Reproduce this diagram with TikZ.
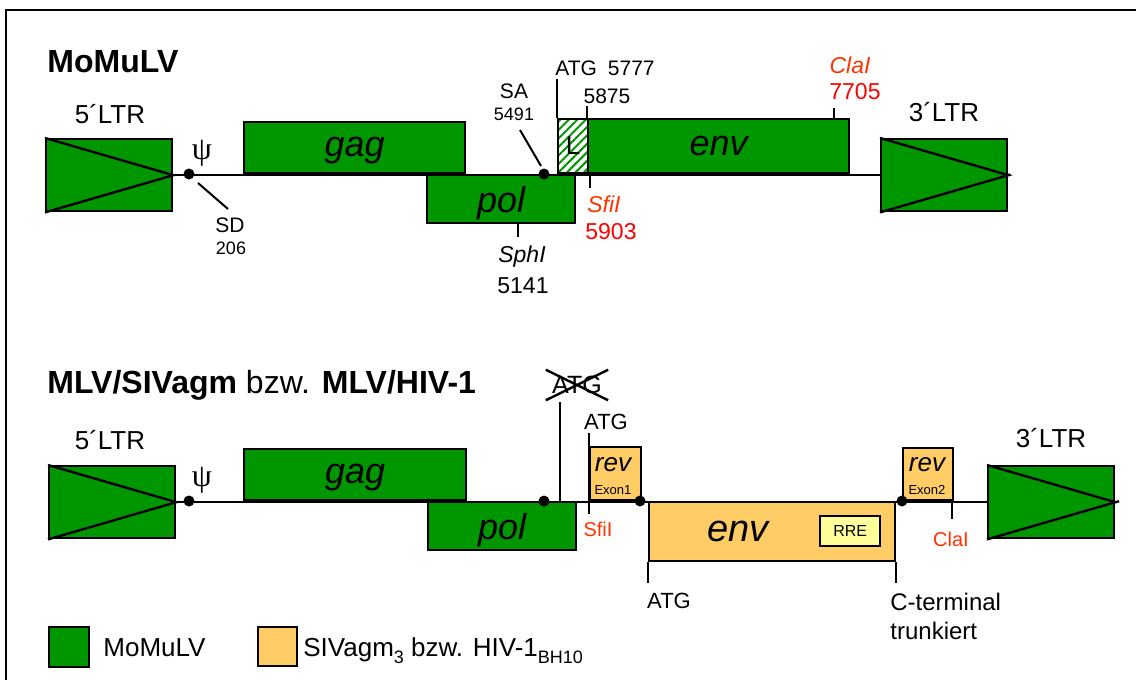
\documentclass[tikz,border=0pt]{standalone}
\usepackage{fontspec}
\setmainfont{Liberation Sans}
\newfontfamily\greekfont{Liberation Serif}
\usetikzlibrary{patterns.meta, positioning}
\definecolor{mlvgreen}{RGB}{0,150,0}
\definecolor{sivorange}{RGB}{255,204,102}
\definecolor{rreyellow}{RGB}{255,255,153}
\definecolor{siteorange}{RGB}{255,51,0}
\definecolor{sitered}{RGB}{255,0,0}
\newcommand{\fsz}[1]{\fontsize{#1}{#1}\selectfont}
\newcommand{\lowsub}[1]{\raisebox{-3.5pt}{\fsz{9}#1}}

\begin{document}
\begin{tikzpicture}[x=0.5pt, y=-0.5pt,
        ltr/.style={draw, line width=1.2pt, fill=mlvgreen, inner sep=0pt, minimum width=63pt, minimum height=36pt},
        gene/.style={draw, line width=1.2pt, fill=mlvgreen, inner sep=0pt, text depth=0pt, font=\itshape\fsz{18}},
        hiv/.style={draw, line width=1.2pt, fill=sivorange, inner sep=0pt},
        site/.style={circle, fill=black, inner sep=0pt, minimum size=5.5pt},
        title/.style={inner sep=0pt, anchor=base west, font=\bfseries\fsz{16}},
        lab/.style={inner sep=0pt, font=\fsz{11.5}},
        big/.style={inner sep=0pt, font=\fsz{13}},
        small/.style={inner sep=0pt, font=\fsz{10.5}},
        tiny/.style={inner sep=0pt, font=\fsz{9}},
        tick/.style={line width=1pt}
    ]

    \useasboundingbox (0,0) rectangle (1136,680);
    \draw[line width=1pt] (6,10) rectangle (1160,700);

    % MoMuLV
    \node[title] (title1) at (47,72) {MoMuLV};

    \node[ltr, anchor=north west] (ltr5a) at (45,138) {};
    \node[ltr, anchor=north west] (ltr3a) at (880,138) {};
    \draw[line width=1.2pt] (ltr5a.north west) -- (ltr5a.east) -- (ltr5a.south west);
    \draw[line width=1.2pt] (ltr3a.north west) -- (ltr3a.east) -- (ltr3a.south west);
    \node[big] (ltr5aText) at (110,114) {5´LTR};
    \node[big] (ltr3aText) at (944,112) {3´LTR};

    \node[gene, minimum width=110.5pt, minimum height=25.5pt, anchor=south west] (gag1) at (243,174) {gag};
    \node[gene, minimum width=74pt, minimum height=24pt, anchor=north west] (pol1) at (426,174) {pol};
    \node[draw, line width=1.2pt, inner sep=0pt, anchor=south west, minimum width=15pt, minimum height=27pt,
          pattern={Lines[angle=45, distance=3pt, line width=1pt]}, pattern color=mlvgreen, font=\fsz{13}] (lead1) at (557,174) {L};
    \node[gene, minimum width=130.5pt, minimum height=27pt, anchor=south west] (env1) at (587,174) {env};

    % backbone
    \coordinate (endA) at (1010,174);
    \draw[line width=1pt] (ltr5a.east) -- (ltr3a.west);
    \draw[line width=1pt] (ltr3a.east) -- (endA);

    \node[site] (psi1) at (189,174) {};
    \node[site] (sa1) at (544,174) {};
    \node[inner sep=0pt, font=\greekfont\fsz{16}] (psiA) at (202,153) {ψ};

    % splice sites
    \coordinate (sdA) at (198,183);
    \coordinate (sdB) at (228,209);
    \draw[tick] (sdA) -- (sdB);
    \node[small] (sd1) at (230,225) {SD};
    \node[tiny] (sdNum) at (231,248) {206};
    \coordinate (saA) at (520,130);
    \coordinate (saB) at (541,166);
    \draw[tick] (saA) -- (saB);
    \node[small] (sa1Text) at (514,91) {SA};
    \node[tiny] (saNum) at (514,114) {5491};

    % restriction sites / ATG
    \draw[tick] (518,222) -- ++(0,15);
    \node[lab, font=\itshape\fsz{11.5}] (sph1) at (522,257) {SphI};
    \node[lab] (sphNum) at (523,286) {5141};
    \draw[tick] (lead1.north west) -- ++(0,-39);
    \draw[tick] (env1.north west) -- ++(0,-12);
    \node[small] (atg1) at (605,68) {ATG\hspace{5.5pt}5777};
    \node[small] (atgNum) at (607,96) {5875};
    \draw[tick] (590,174) -- ++(0,14);
    \node[lab, font=\itshape\fsz{11.5}, text=siteorange] (sfi1) at (604,204) {SfiI};
    \node[lab, text=sitered] (sfiNum) at (611,232) {5903};
    \draw[tick] (834,120) -- ++(0,-12);
    \node[lab, font=\itshape\fsz{11.5}, text=siteorange] (cla1) at (850,65) {ClaI};
    \node[lab, text=sitered] (claNum) at (855,92) {7705};

    % MLV/SIVagm bzw. MLV/HIV-1
    \node[title] (title2) at (47,393) {MLV/SIVagm \textmd{bzw.} MLV/HIV-1};

    \node[ltr, anchor=north west] (ltr5b) at (48,465) {};
    \node[ltr, anchor=north west] (ltr3b) at (987,465) {};
    \draw[line width=1.2pt] (ltr5b.north west) -- (ltr5b.east) -- (ltr5b.south west);
    \draw[line width=1.2pt] (ltr3b.north west) -- (ltr3b.east) -- (ltr3b.south west);
    \node[big] (ltr5bText) at (110,440) {5´LTR};
    \node[big] (ltr3bText) at (1051,438) {3´LTR};

    \node[gene, minimum width=111pt, minimum height=25.5pt, anchor=south west] (gag2) at (243,501) {gag};
    \node[gene, minimum width=74pt, minimum height=24pt, anchor=north west] (pol2) at (427,501) {pol};
    \node[hiv, minimum width=25.5pt, minimum height=26.5pt, anchor=south west] (rev1) at (589,501) {};
    \node[hiv, minimum width=123pt, minimum height=29.5pt, anchor=north west] (env2) at (648,501) {};
    \node[hiv, minimum width=25pt, minimum height=26pt, anchor=south west] (rev2) at (902,501) {};
    \node[draw, line width=1.2pt, fill=rreyellow, inner sep=0pt, minimum width=30pt, minimum height=15pt,
          anchor=north west, font=\fsz{8}] (rre) at (819,515) {RRE};

    \node[inner sep=0pt, font=\itshape\fsz{13}] (rev1Text) at (613,465) {rev};
    \node[inner sep=0pt, font=\fsz{6.5}] (exon1) at (613,490) {Exon1};
    \node[inner sep=0pt, font=\itshape\fsz{13}] (rev2Text) at (927,465) {rev};
    \node[inner sep=0pt, font=\fsz{6.5}] (exon2) at (927,490) {Exon2};
    \node[inner sep=0pt, font=\itshape\fsz{19}] (env2Text) at (738,531) {env};

    % backbone
    \coordinate (endB) at (1119,501);
    \draw[line width=1pt] (ltr5b.east) -- (ltr3b.west);
    \draw[line width=1pt] (ltr3b.east) -- (endB);

    \node[site] (psi2) at (189,501) {};
    \node[site] (sa2) at (544,501) {};
    \node[site] (sd2) at (640,501) {};
    \node[site] (sa3) at (902,501) {};
    \node[inner sep=0pt, font=\greekfont\fsz{16}] (psiB) at (202,480) {ψ};

    % ATG / sites
    \draw[tick] (560,501) -- (560,402);
    \node[inner sep=3pt, font=\fsz{12.5}] (atgOld) at (577,385) {ATG};
    \draw[line width=1.2pt] (atgOld.north west) -- (atgOld.south east);
    \draw[line width=1.2pt] (atgOld.south west) -- (atgOld.north east);
    \node[lab, font=\fsz{11}] (atg2) at (606,422) {ATG};
    \draw[tick] (589,433) -- (589,514);
    \node[lab, font=\fsz{10}, text=siteorange] (sfi2) at (598,529) {SfiI};
    \draw[tick] (env2.south west) -- ++(0,21);
    \draw[tick] (env2.south east) -- ++(0,21);
    \node[lab, font=\fsz{11}] (atg3) at (669,601) {ATG};
    \node[lab, font=\fsz{12}, anchor=west] (cterm) at (890,602) {C-terminal};
    \node[lab, font=\fsz{12}, anchor=west] (trunk) at (890,631) {trunkiert};
    \draw[tick] (952,501) -- ++(0,18);
    \node[lab, font=\fsz{10}, text=siteorange] (cla2) at (951,539) {ClaI};

    % legend
    \node[draw, line width=1pt, fill=mlvgreen, minimum size=20pt, inner sep=0pt, anchor=north west] (keyMlv) at (48,626) {};
    \node[big, anchor=base west] (keyMlvText) at (103,656) {MoMuLV};
    \node[draw, line width=1pt, fill=sivorange, minimum size=19.5pt, inner sep=0pt, anchor=north west] (keySiv) at (257,626) {};
    \node[big, anchor=base west] (keySivText) at (303,656) {SIVagm\lowsub{3} bzw. HIV-1\lowsub{BH10}};

\end{tikzpicture}
\end{document}
